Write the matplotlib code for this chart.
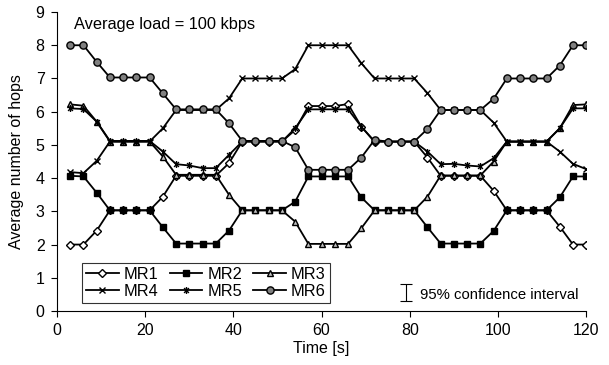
import matplotlib
matplotlib.use('Agg')
import matplotlib.pyplot as plt
from matplotlib.path import Path

plt.rcParams['font.family'] = ['Liberation Sans', 'DejaVu Sans']

# Time samples [s]
time_s = [3, 6, 9, 12, 15, 18, 21, 24, 27, 30, 33, 36, 39, 42, 45, 48, 51, 54, 57, 60,
          63, 66, 69, 72, 75, 78, 81, 84, 87, 90, 93, 96, 99, 102, 105, 108, 111, 114, 117, 120]

# Average number of hops per mesh router
mr1 = [2.0, 2.0, 2.42, 3.03, 3.03, 3.03, 3.03, 3.44, 4.07, 4.07, 4.07, 4.07, 4.45,
       5.1, 5.1, 5.1, 5.1, 5.45, 6.17, 6.17, 6.17, 6.23, 5.55, 5.1, 5.1, 5.1, 5.1,
       4.62, 4.07, 4.07, 4.07, 4.07, 3.62, 3.03, 3.03, 3.03, 3.03, 2.54, 2.0, 2.0]
mr2 = [4.07, 4.05, 3.56, 3.03, 3.03, 3.03, 3.03, 2.52, 2.03, 2.03, 2.03, 2.03, 2.42,
       3.03, 3.03, 3.03, 3.03, 3.29, 4.05, 4.05, 4.05, 4.05, 3.42, 3.03, 3.03, 3.03, 3.03,
       2.52, 2.03, 2.03, 2.03, 2.03, 2.41, 3.03, 3.03, 3.03, 3.03, 3.42, 4.05, 4.05]
mr3 = [6.22, 6.18, 5.7, 5.1, 5.1, 5.1, 5.1, 4.65, 4.1, 4.1, 4.1, 4.1, 3.5,
       3.03, 3.03, 3.03, 3.03, 2.69, 2.02, 2.02, 2.02, 2.02, 2.49, 3.03, 3.03, 3.03, 3.03,
       3.44, 4.08, 4.08, 4.08, 4.08, 4.5, 5.1, 5.1, 5.1, 5.1, 5.5, 6.2, 6.22]
mr4 = [4.18, 4.15, 4.52, 5.1, 5.1, 5.1, 5.1, 5.5, 6.05, 6.05, 6.05, 6.05, 6.4,
       7.0, 7.0, 7.0, 7.0, 7.28, 8.0, 8.0, 8.0, 8.0, 7.46, 7.0, 7.0, 7.0, 7.0,
       6.56, 6.05, 6.05, 6.05, 6.05, 5.67, 5.1, 5.1, 5.1, 5.1, 4.8, 4.43, 4.27]
mr5 = [6.1, 6.08, 5.7, 5.12, 5.12, 5.12, 5.12, 4.8, 4.42, 4.38, 4.3, 4.3, 4.7,
       5.1, 5.1, 5.1, 5.1, 5.5, 6.07, 6.07, 6.07, 6.07, 5.55, 5.1, 5.1, 5.1, 5.1,
       4.8, 4.42, 4.43, 4.38, 4.35, 4.6, 5.1, 5.1, 5.1, 5.1, 5.5, 6.1, 6.1]
mr6 = [8.0, 8.0, 7.5, 7.03, 7.03, 7.03, 7.03, 6.55, 6.07, 6.07, 6.07, 6.07, 5.65,
       5.12, 5.12, 5.12, 5.12, 4.93, 4.25, 4.25, 4.25, 4.25, 4.62, 5.15, 5.1, 5.1, 5.1,
       5.48, 6.05, 6.05, 6.05, 6.05, 6.39, 7.0, 7.0, 7.0, 7.0, 7.39, 8.0, 8.0]

labels = ['MR1', 'MR2', 'MR3', 'MR4', 'MR5', 'MR6']

# Excel style star: an x with a vertical bar
star = Path([(0, -1), (0, 1), (-0.7, -0.7), (0.7, 0.7), (-0.7, 0.7), (0.7, -0.7)],
            [Path.MOVETO, Path.LINETO, Path.MOVETO, Path.LINETO, Path.MOVETO, Path.LINETO])

styles = [
    dict(marker='D', markersize=3.6, markerfacecolor='white'),
    dict(marker='s', markersize=5, markerfacecolor='black'),
    dict(marker='^', markersize=5, markerfacecolor='#c0c0c0'),
    dict(marker='x', markersize=4.5, markeredgewidth=1.0),
    dict(marker=star, markersize=5, markeredgewidth=1.0),
    dict(marker='o', markersize=5.2, markerfacecolor='#808080'),
]

fig = plt.figure(figsize=(6.09, 3.65), dpi=100)
ax = fig.add_axes([0.0936, 0.148, 0.869, 0.819])

handles = []
for vals, lab, st in zip([mr1, mr2, mr3, mr4, mr5, mr6], labels, styles):
    h, = ax.plot(time_s, vals, color='black', linewidth=1.3,
                 markeredgecolor='black', label=lab, **st)
    handles.append(h)

ax.set_xlim(0, 120)
ax.set_ylim(0, 9)
ax.set_xticks(range(0, 121, 20))
ax.set_yticks(range(0, 10))
ax.tick_params(labelsize=11.5, length=4, width=0.8, direction='out', pad=5)
for side in ['top', 'right']:
    ax.spines[side].set_visible(False)
ax.set_xlabel('Time [s]', fontsize=11.5, labelpad=2)
ax.set_ylabel('Average number of hops', fontsize=11.5, labelpad=8)

ax.text(0.032, 0.957, 'Average load = 100 kbps', transform=ax.transAxes,
        fontsize=11.8, va='center', ha='left')

# legend, filled row by row
order = [0, 3, 1, 4, 2, 5]
leg = ax.legend([handles[i] for i in order], [labels[i] for i in order],
                ncol=3, loc='lower left', bbox_to_anchor=(0.047, 0.027, 0.469, 0.13),
                mode='expand', fontsize=11.8, frameon=True, fancybox=False,
                edgecolor='black', handlelength=2.0, handletextpad=0.3,
                borderpad=0.25, labelspacing=0.1, columnspacing=1.0,
                borderaxespad=0)
leg.get_frame().set_linewidth(0.8)

# confidence interval key
ax.errorbar([0.660], [0.062], yerr=[0.027], transform=ax.transAxes, fmt='none',
            ecolor='black', elinewidth=0.8, capsize=4.5, capthick=0.8, clip_on=False)
ax.text(0.686, 0.055, '95% confidence interval', transform=ax.transAxes,
        fontsize=10.7, va='center', ha='left')

fig.savefig('out.png', dpi=100)
